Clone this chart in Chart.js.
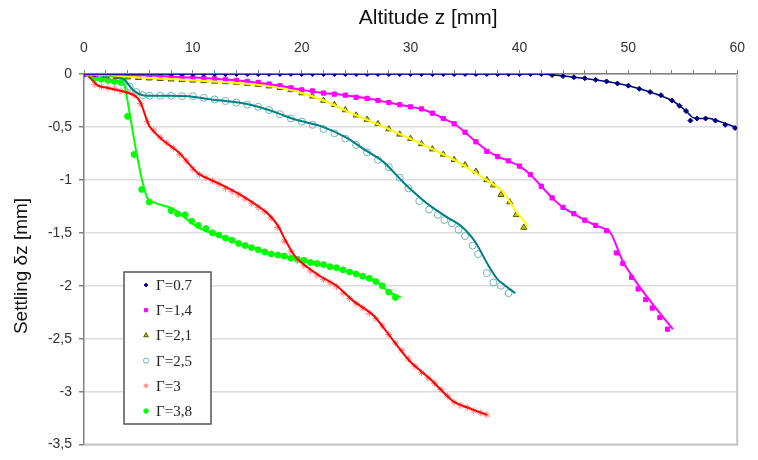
<!DOCTYPE html>
<html>
<head>
<meta charset="utf-8">
<title>Settling vs altitude</title>
<script src="https://cdn.jsdelivr.net/npm/chart.js"></script>
<style>
  body { margin: 0; background: #fff; }
  #grafica { display: block; }
</style>
</head>
<body>
<canvas id="grafica" width="758" height="460"></canvas>
<script>
// etiquetas de las series y de los ejes
const etiquetas = ["Γ=0.7", "Γ=1,4", "Γ=2,1", "Γ=2,5", "Γ=3", "Γ=3,8"];
const tituloX = "Altitude z [mm]";
const tituloY = "Settling δz [mm]";
const xLabels = [0, 10, 20, 30, 40, 50, 60];
const yLabels = [0, -0.5, -1, -1.5, -2, -2.5, -3, -3.5];

// medidas (marcadores) - altitud z y asentamiento dz
const z07 = [0,1,2,3,4,5,6,7,8,9,10,11,12,13,14,15,16,17,18,19,20,21,22,23,24,25,26,27,28,29,30,31,32,33,34,35,36,37,38,39,40,41,42,43,44,45,46,47,48,49,50,51,52,53,54,54.7,55.3,55.7,56.3,57.1,58,58.9,59.8];
const dz07 = [0,0,0,0,0,0,0,0,0,0,0,0,0,0,0,0,0,0,0,0,0,0,0,0,0,0,0,0,0,0,0,0,0,0,0,0,0,0,0,0,0,0,0,-0.01,-0.02,-0.03,-0.04,-0.055,-0.07,-0.09,-0.11,-0.14,-0.17,-0.2,-0.25,-0.3,-0.35,-0.44,-0.42,-0.42,-0.44,-0.48,-0.51];

const z14 = [0,1,2,3,4,5,6,7,8,9,10,11,12,13,14,15,16,17,18,19,20,21,22,23,24,25,26,27,28,29,30,31,32,33,34,35,36,37,38,39,40,41,42,43,44,45,46,47,48,48.9,49.5,50.3,50.9,51.6,52.2,52.9,53.6];
const dz14 = [0,0,0,-0.005,-0.01,-0.01,-0.015,-0.02,-0.025,-0.03,-0.035,-0.04,-0.045,-0.05,-0.06,-0.07,-0.08,-0.095,-0.11,-0.13,-0.15,-0.16,-0.18,-0.19,-0.2,-0.22,-0.23,-0.25,-0.27,-0.29,-0.31,-0.33,-0.37,-0.42,-0.47,-0.55,-0.64,-0.73,-0.78,-0.82,-0.87,-0.95,-1.06,-1.17,-1.26,-1.32,-1.38,-1.43,-1.48,-1.69,-1.79,-1.92,-2.03,-2.13,-2.21,-2.3,-2.41];

const z21 = [0,1,2,3,4,5,6,7,8,9,10,11,12,13,14,15,16,17,18,19,20,21,22,23,24,25,26,27,28,29,30,31,32,33,34,35,36,37,37.6,38.3,39.1,39.7,40.4];
const dz21 = [0,-0.01,-0.02,-0.025,-0.03,-0.035,-0.04,-0.045,-0.05,-0.055,-0.06,-0.065,-0.07,-0.075,-0.08,-0.09,-0.1,-0.115,-0.13,-0.15,-0.18,-0.21,-0.25,-0.29,-0.34,-0.39,-0.43,-0.47,-0.52,-0.57,-0.61,-0.66,-0.71,-0.76,-0.81,-0.86,-0.92,-1,-1.05,-1.14,-1.21,-1.33,-1.45];

const z25 = [0,1,2,3,3.6,4.2,4.8,5.4,6,7,8,9,10,11,12,13,14,15,16,17,18,19,20,21,22,23,24,25,26,27,28,29,29.8,30.8,31.7,32.5,33.1,33.8,34.4,35,35.7,36.2,37,37.6,38.3,39];
const dz25 = [0,-0.02,-0.03,-0.04,-0.07,-0.12,-0.17,-0.2,-0.205,-0.205,-0.205,-0.21,-0.21,-0.225,-0.24,-0.255,-0.27,-0.29,-0.31,-0.34,-0.38,-0.42,-0.45,-0.48,-0.52,-0.56,-0.61,-0.67,-0.74,-0.81,-0.88,-0.98,-1.08,-1.2,-1.28,-1.33,-1.38,-1.41,-1.47,-1.53,-1.62,-1.7,-1.88,-1.97,-2,-2.07];

const z30 = [1,1.6,2.2,2.8,3.4,4,4.6,5.2,5.8,6.4,7,7.6,8.2,8.8,9.4,10,10.6,11.2,11.8,12.4,13,13.6,14.2,14.8,15.4,16,16.6,17.2,17.8,18.4,19,19.6,20.2,20.8,21.4,22,22.6,23.2,23.8,24.4,25,25.6,26.2,26.8,27.4,28,28.6,29.2,29.8,30.4,31,31.6,32.2,32.8,33.4,34,34.6,35.2,35.8,36.4,37];
const dz30 = [-0.1,-0.12,-0.13,-0.14,-0.16,-0.17,-0.2,-0.28,-0.45,-0.53,-0.6,-0.65,-0.7,-0.76,-0.82,-0.9,-0.95,-0.98,-1.01,-1.04,-1.08,-1.11,-1.14,-1.18,-1.22,-1.26,-1.3,-1.36,-1.45,-1.58,-1.68,-1.76,-1.81,-1.86,-1.9,-1.94,-1.97,-2.01,-2.07,-2.12,-2.17,-2.21,-2.26,-2.31,-2.38,-2.46,-2.54,-2.61,-2.69,-2.76,-2.82,-2.87,-2.92,-2.98,-3.04,-3.1,-3.13,-3.15,-3.18,-3.2,-3.22];

const z38 = [0,1,1.6,2.2,2.8,3.4,4,4.6,5.3,6,8,8.6,9.3,9.9,10.5,11.2,11.8,12.4,13,13.6,14.2,14.8,15.4,16,16.6,17.2,17.8,18.4,19,19.6,20.2,20.8,21.4,22,22.6,23.2,23.8,24.4,25,25.6,26.2,26.8,27.4,28,28.6];
const dz38 = [0,-0.04,-0.05,-0.06,-0.07,-0.08,-0.4,-0.76,-1.09,-1.21,-1.29,-1.32,-1.33,-1.39,-1.43,-1.46,-1.5,-1.52,-1.55,-1.57,-1.6,-1.62,-1.64,-1.66,-1.68,-1.7,-1.71,-1.72,-1.74,-1.75,-1.76,-1.78,-1.79,-1.8,-1.82,-1.83,-1.85,-1.87,-1.89,-1.91,-1.93,-1.96,-2,-2.06,-2.11];

// curvas del modelo (lineas)
const zLinea07 = [0,42,45,48,50,52,54,55.2,55.9,56.5,57.5,59,60];
const dzLinea07 = [0,0,-0.03,-0.07,-0.11,-0.17,-0.25,-0.34,-0.41,-0.42,-0.42,-0.47,-0.51];

const zLinea14 = [0,3,6,9,12,15,18,20,22,24,26,28,30,31,32,33,34,35,36,37,38,39,40,41,42,43,44,45,46,47,48.3,49.5,51.1,52.6,54.1];
const dzLinea14 = [0,-0.005,-0.015,-0.03,-0.045,-0.07,-0.11,-0.15,-0.18,-0.2,-0.23,-0.27,-0.31,-0.33,-0.37,-0.42,-0.47,-0.55,-0.64,-0.72,-0.78,-0.82,-0.87,-0.95,-1.06,-1.17,-1.26,-1.32,-1.38,-1.43,-1.49,-1.77,-2.02,-2.22,-2.41];

const zLinea21 = [0,5,10,15,18,20,22,25,28,31,34,36.8,38.4,39.5,40.8];
const dzLinea21 = [0,-0.03,-0.06,-0.09,-0.13,-0.18,-0.25,-0.39,-0.52,-0.66,-0.81,-0.99,-1.1,-1.27,-1.44];

const zLinea25 = [0,3.5,4.5,5.4,7.2,9.6,11.7,14.2,16,17.8,19.4,21.7,24.1,25.7,27.5,29.3,29.9,31,32,33.3,34.7,35.9,37.1,38,39.6];
const dzLinea25 = [0,-0.04,-0.15,-0.2,-0.205,-0.21,-0.24,-0.27,-0.31,-0.37,-0.43,-0.49,-0.6,-0.71,-0.83,-1.02,-1.08,-1.18,-1.26,-1.35,-1.44,-1.58,-1.8,-1.94,-2.07];

const zLinea30 = [0.4,1.3,2.1,3.6,4.6,5.2,6,7.2,8.7,10.5,12.3,14.2,16.3,16.9,17.8,18.4,19.3,20.2,21.7,23.2,24.7,26.6,28.5,30,31.8,33.9,35.5,37];
const dzLinea30 = [-0.02,-0.11,-0.13,-0.165,-0.2,-0.27,-0.49,-0.62,-0.74,-0.94,-1.03,-1.13,-1.27,-1.32,-1.43,-1.55,-1.71,-1.8,-1.91,-2,-2.14,-2.28,-2.53,-2.72,-2.88,-3.09,-3.16,-3.22];

const zLinea38 = [0,0.85,3.3,3.7,5.8,8.1,10.5,13,15.4,18.1,20.2,22.6,25,26.9,27.9,29.1];
const dzLinea38 = [0,-0.04,-0.07,-0.1,-1.17,-1.27,-1.45,-1.55,-1.64,-1.72,-1.77,-1.82,-1.89,-1.96,-2.05,-2.11];

const colores = ['#000080', '#ff00ff', '#ffff00', '#008080', '#ff0000', '#00ff00'];

// estilo de los marcadores de cada serie
const marcadores = [
    { estilo: 'rectRot',  radio: 2.5, relleno: '#000080', borde: '#000080' },
    { estilo: 'rect',     radio: 3,   relleno: '#ff00ff', borde: '#ff00ff' },
    { estilo: 'triangle', radio: 3.5, relleno: '#c8c800', borde: '#5a5a00' },
    { estilo: 'circle',   radio: 3.5, relleno: 'rgba(0,0,0,0)', borde: '#6cb6b6' },
    { estilo: 'star',     radio: 3.5, relleno: '#ff9090', borde: '#ff8080' },
    { estilo: 'circle',   radio: 3,   relleno: '#00ff00', borde: '#00ff00' }
];

const medidas = [[z07, dz07], [z14, dz14], [z21, dz21], [z25, dz25], [z30, dz30], [z38, dz38]];
const lineas = [[zLinea07, dzLinea07], [zLinea14, dzLinea14], [zLinea21, dzLinea21],
                [zLinea25, dzLinea25], [zLinea30, dzLinea30], [zLinea38, dzLinea38]];

const fuenteEjes = '"Liberation Sans", Arial, sans-serif';

function aPuntos(xs, ys) {
    return xs.map((x, i) => ({ x: x, y: ys[i] }));
}

// marco derecho e inferior del area de trazado
const marco = {
    id: 'marco',
    beforeDatasetsDraw(chart) {
        const { ctx, chartArea: a } = chart;
        ctx.save();
        ctx.strokeStyle = '#c4c4c4';
        ctx.lineWidth = 2;
        ctx.beginPath();
        ctx.moveTo(a.right, a.top);
        ctx.lineTo(a.right, a.bottom);
        ctx.lineTo(a.left, a.bottom);
        ctx.stroke();
        ctx.restore();
    }
};

// titulos de los ejes (el de x no esta centrado en el original)
const titulos = {
    id: 'titulos',
    afterDraw(chart) {
        const { ctx, chartArea: a } = chart;
        ctx.save();
        ctx.fillStyle = '#111';
        ctx.textAlign = 'center';
        ctx.textBaseline = 'middle';
        ctx.font = '21px ' + fuenteEjes;
        ctx.fillText(tituloX, a.left + a.width * 0.527, 18);
        ctx.translate(22, a.top + a.height * 0.518);
        ctx.rotate(-Math.PI / 2);
        ctx.font = '19px ' + fuenteEjes;
        ctx.fillText(tituloY, 0, 0);
        ctx.restore();
    }
};

// leyenda con caja dentro del grafico
const leyendaCaja = {
    id: 'leyendaCaja',
    afterDraw(chart) {
        const { ctx, chartArea: a } = chart;
        const x0 = a.left + 40, y0 = a.top + 198, ancho = 87, alto = 152;
        ctx.save();
        ctx.fillStyle = '#fff';
        ctx.fillRect(x0, y0, ancho, alto);
        ctx.strokeStyle = '#555';
        ctx.lineWidth = 1.5;
        ctx.strokeRect(x0, y0, ancho, alto);
        ctx.font = '15px "Liberation Serif", serif';
        ctx.textBaseline = 'middle';
        etiquetas.forEach((texto, i) => {
            const y = y0 + 13 + i * 25.2;
            const m = marcadores[i];
            ctx.fillStyle = m.relleno;
            ctx.strokeStyle = m.borde;
            ctx.lineWidth = 1;
            Chart.helpers.drawPoint(ctx, { pointStyle: m.estilo, radius: m.radio * 0.75, borderWidth: 1, rotation: 0 }, x0 + 22, y);
            ctx.fillStyle = '#222';
            ctx.fillText(texto, x0 + 32, y + 1);
        });
        ctx.restore();
    }
};

function crearGrafica() {
    const datasets = [];

    lineas.forEach((par, i) => {
        datasets.push({
            label: etiquetas[i] + ' modelo',
            data: aPuntos(par[0], par[1]),
            showLine: true,
            borderColor: colores[i],
            borderWidth: i === 0 ? 1.5 : 2,
            pointRadius: 0,
            tension: 0.25
        });
    });

    medidas.forEach((par, i) => {
        const m = marcadores[i];
        datasets.push({
            label: etiquetas[i],
            data: aPuntos(par[0], par[1]),
            showLine: false,
            pointStyle: m.estilo,
            pointRadius: m.radio,
            pointBackgroundColor: m.relleno,
            pointBorderColor: m.borde,
            pointBorderWidth: 1
        });
    });

    const ctx = document.getElementById('grafica').getContext('2d');
    new Chart(ctx, {
        type: 'scatter',
        data: { datasets: datasets },
        plugins: [marco, titulos, leyendaCaja],
        options: {
            responsive: false,
            animation: false,
            layout: { padding: { left: 0, right: 12, top: 0, bottom: 12 } },
            plugins: {
                legend: { display: false },
                tooltip: { enabled: false }
            },
            scales: {
                x: {
                    type: 'linear',
                    position: 'top',
                    min: 0,
                    max: 60,
                    afterFit: (escala) => { escala.height = 74; },
                    ticks: {
                        stepSize: 2,
                        autoSkip: false,
                        maxRotation: 0,
                        padding: 13,
                        color: '#333',
                        font: { family: fuenteEjes, size: 14 },
                        callback: (v) => xLabels.includes(v) ? String(v) : ''
                    },
                    grid: {
                        drawOnChartArea: false,
                        tickLength: 4,
                        color: '#808080'
                    },
                    border: { color: '#808080', width: 1.5 }
                },
                y: {
                    type: 'linear',
                    min: -3.5,
                    max: 0,
                    afterFit: (escala) => { escala.width = 84; },
                    afterBuildTicks: (escala) => {
                        escala.ticks = yLabels.map(v => ({ value: v }));
                    },
                    ticks: {
                        padding: 7,
                        color: '#333',
                        font: { family: fuenteEjes, size: 14 },
                        callback: (v) => String(v).replace('.', ',')
                    },
                    grid: {
                        color: '#dcdcdc',
                        lineWidth: 1.5,
                        tickLength: 5,
                        tickColor: '#808080'
                    },
                    border: { color: '#808080', width: 1.5 }
                }
            }
        }
    });
}

document.addEventListener('DOMContentLoaded', function () {
    crearGrafica();
});
</script>
</body>
</html>
